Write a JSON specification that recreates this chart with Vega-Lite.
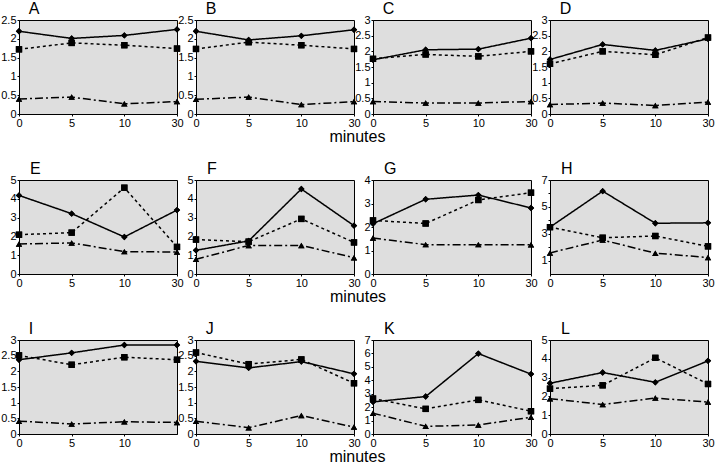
{
"$schema":"https://vega.github.io/schema/vega-lite/v6.json",
"padding":{"left":0,"top":0,"right":0,"bottom":0},
"background":"white",
"datasets":{"d":[
{"p":"A","s":"d","t":0,"v":2.20},{"p":"A","s":"d","t":5,"v":2.01},{"p":"A","s":"d","t":10,"v":2.09},{"p":"A","s":"d","t":30,"v":2.25},
{"p":"A","s":"s","t":0,"v":1.72},{"p":"A","s":"s","t":5,"v":1.89},{"p":"A","s":"s","t":10,"v":1.83},{"p":"A","s":"s","t":30,"v":1.74},
{"p":"A","s":"t","t":0,"v":0.40},{"p":"A","s":"t","t":5,"v":0.45},{"p":"A","s":"t","t":10,"v":0.27},{"p":"A","s":"t","t":30,"v":0.33},
{"p":"B","s":"d","t":0,"v":2.20},{"p":"B","s":"d","t":5,"v":1.97},{"p":"B","s":"d","t":10,"v":2.08},{"p":"B","s":"d","t":30,"v":2.24},
{"p":"B","s":"s","t":0,"v":1.73},{"p":"B","s":"s","t":5,"v":1.91},{"p":"B","s":"s","t":10,"v":1.83},{"p":"B","s":"s","t":30,"v":1.73},
{"p":"B","s":"t","t":0,"v":0.39},{"p":"B","s":"t","t":5,"v":0.45},{"p":"B","s":"t","t":10,"v":0.25},{"p":"B","s":"t","t":30,"v":0.33},
{"p":"C","s":"d","t":0,"v":1.73},{"p":"C","s":"d","t":5,"v":2.05},{"p":"C","s":"d","t":10,"v":2.07},{"p":"C","s":"d","t":30,"v":2.42},
{"p":"C","s":"s","t":0,"v":1.76},{"p":"C","s":"s","t":5,"v":1.90},{"p":"C","s":"s","t":10,"v":1.84},{"p":"C","s":"s","t":30,"v":2.00},
{"p":"C","s":"t","t":0,"v":0.40},{"p":"C","s":"t","t":5,"v":0.35},{"p":"C","s":"t","t":10,"v":0.35},{"p":"C","s":"t","t":30,"v":0.40},
{"p":"D","s":"d","t":0,"v":1.74},{"p":"D","s":"d","t":5,"v":2.22},{"p":"D","s":"d","t":10,"v":2.03},{"p":"D","s":"d","t":30,"v":2.40},
{"p":"D","s":"s","t":0,"v":1.60},{"p":"D","s":"s","t":5,"v":2.00},{"p":"D","s":"s","t":10,"v":1.89},{"p":"D","s":"s","t":30,"v":2.44},
{"p":"D","s":"t","t":0,"v":0.30},{"p":"D","s":"t","t":5,"v":0.35},{"p":"D","s":"t","t":10,"v":0.27},{"p":"D","s":"t","t":30,"v":0.38},
{"p":"E","s":"d","t":0,"v":4.18},{"p":"E","s":"d","t":5,"v":3.21},{"p":"E","s":"d","t":10,"v":1.97},{"p":"E","s":"d","t":30,"v":3.40},
{"p":"E","s":"s","t":0,"v":2.09},{"p":"E","s":"s","t":5,"v":2.20},{"p":"E","s":"s","t":10,"v":4.59},{"p":"E","s":"s","t":30,"v":1.44},
{"p":"E","s":"t","t":0,"v":1.60},{"p":"E","s":"t","t":5,"v":1.65},{"p":"E","s":"t","t":10,"v":1.19},{"p":"E","s":"t","t":30,"v":1.17},
{"p":"F","s":"d","t":0,"v":1.26},{"p":"F","s":"d","t":5,"v":1.76},{"p":"F","s":"d","t":10,"v":4.52},{"p":"F","s":"d","t":30,"v":2.57},
{"p":"F","s":"s","t":0,"v":1.83},{"p":"F","s":"s","t":5,"v":1.72},{"p":"F","s":"s","t":10,"v":2.93},{"p":"F","s":"s","t":30,"v":1.68},
{"p":"F","s":"t","t":0,"v":0.78},{"p":"F","s":"t","t":5,"v":1.52},{"p":"F","s":"t","t":10,"v":1.52},{"p":"F","s":"t","t":30,"v":0.87},
{"p":"G","s":"d","t":0,"v":2.14},{"p":"G","s":"d","t":5,"v":3.18},{"p":"G","s":"d","t":10,"v":3.36},{"p":"G","s":"d","t":30,"v":2.81},
{"p":"G","s":"s","t":0,"v":2.28},{"p":"G","s":"s","t":5,"v":2.15},{"p":"G","s":"s","t":10,"v":3.15},{"p":"G","s":"s","t":30,"v":3.46},
{"p":"G","s":"t","t":0,"v":1.53},{"p":"G","s":"t","t":5,"v":1.25},{"p":"G","s":"t","t":10,"v":1.25},{"p":"G","s":"t","t":30,"v":1.24},
{"p":"H","s":"d","t":0,"v":3.49},{"p":"H","s":"d","t":5,"v":6.17},{"p":"H","s":"d","t":10,"v":3.78},{"p":"H","s":"d","t":30,"v":3.81},
{"p":"H","s":"s","t":0,"v":3.49},{"p":"H","s":"s","t":5,"v":2.70},{"p":"H","s":"s","t":10,"v":2.83},{"p":"H","s":"s","t":30,"v":2.06},
{"p":"H","s":"t","t":0,"v":1.57},{"p":"H","s":"t","t":5,"v":2.53},{"p":"H","s":"t","t":10,"v":1.55},{"p":"H","s":"t","t":30,"v":1.23},
{"p":"I","s":"d","t":0,"v":2.37},{"p":"I","s":"d","t":5,"v":2.59},{"p":"I","s":"d","t":10,"v":2.84},{"p":"I","s":"d","t":30,"v":2.84},
{"p":"I","s":"s","t":0,"v":2.51},{"p":"I","s":"s","t":5,"v":2.21},{"p":"I","s":"s","t":10,"v":2.45},{"p":"I","s":"s","t":30,"v":2.37},
{"p":"I","s":"t","t":0,"v":0.41},{"p":"I","s":"t","t":5,"v":0.32},{"p":"I","s":"t","t":10,"v":0.39},{"p":"I","s":"t","t":30,"v":0.37},
{"p":"J","s":"d","t":0,"v":2.32},{"p":"J","s":"d","t":5,"v":2.11},{"p":"J","s":"d","t":10,"v":2.31},{"p":"J","s":"d","t":30,"v":1.92},
{"p":"J","s":"s","t":0,"v":2.60},{"p":"J","s":"s","t":5,"v":2.23},{"p":"J","s":"s","t":10,"v":2.38},{"p":"J","s":"s","t":30,"v":1.62},
{"p":"J","s":"t","t":0,"v":0.41},{"p":"J","s":"t","t":5,"v":0.20},{"p":"J","s":"t","t":10,"v":0.59},{"p":"J","s":"t","t":30,"v":0.22},
{"p":"K","s":"d","t":0,"v":2.39},{"p":"K","s":"d","t":5,"v":2.79},{"p":"K","s":"d","t":10,"v":5.99},{"p":"K","s":"d","t":30,"v":4.46},
{"p":"K","s":"s","t":0,"v":2.64},{"p":"K","s":"s","t":5,"v":1.87},{"p":"K","s":"s","t":10,"v":2.54},{"p":"K","s":"s","t":30,"v":1.70},
{"p":"K","s":"t","t":0,"v":1.55},{"p":"K","s":"t","t":5,"v":0.57},{"p":"K","s":"t","t":10,"v":0.67},{"p":"K","s":"t","t":30,"v":1.25},
{"p":"L","s":"d","t":0,"v":2.70},{"p":"L","s":"d","t":5,"v":3.27},{"p":"L","s":"d","t":10,"v":2.75},{"p":"L","s":"d","t":30,"v":3.89},
{"p":"L","s":"s","t":0,"v":2.41},{"p":"L","s":"s","t":5,"v":2.59},{"p":"L","s":"s","t":10,"v":4.05},{"p":"L","s":"s","t":30,"v":2.66},
{"p":"L","s":"t","t":0,"v":1.88},{"p":"L","s":"t","t":5,"v":1.57},{"p":"L","s":"t","t":10,"v":1.91},{"p":"L","s":"t","t":30,"v":1.70}
]},
"config":{
"view":{"fill":"#dedede","stroke":"black","strokeWidth":1},
"axis":{"grid":false,"domainColor":"black","domainWidth":1,"tickColor":"black","tickSize":2,"labelColor":"black","labelFont":"Liberation Sans Narrow, Liberation Sans","labelFontSize":11,"labelPadding":1},
"axisY":{"minExtent":17,"maxExtent":17},
"axisX":{"labelAngle":0,"labelPadding":1},
"title":{"anchor":"start","dx":28,"offset":-3,"fontSize":16,"font":"Liberation Sans","fontWeight":"normal","color":"black"},
"line":{"color":"black","strokeWidth":1.5},
"point":{"filled":true,"color":"black","size":40,"opacity":1}
},
"spacing":15,
"vconcat":[
{"bounds":"flush","spacing":19,"title":{"text":"minutes","orient":"bottom","anchor":"middle","dx":0,"offset":0,"fontSize":16},
"hconcat":[
{"title":"A","width":158,"height":94,"data":{"name":"d"},"transform":[{"filter":"datum.p=='A'"}],
"encoding":{"x":{"field":"t","type":"ordinal","scale":{"padding":0},"axis":{"title":null}},
"y":{"field":"v","type":"quantitative","scale":{"domain":[0,2.5],"nice":false},"axis":{"title":null,"values":[0,0.5,1,1.5,2,2.5],"format":"~g"}},
"strokeDash":{"field":"s","type":"nominal","legend":null,"scale":{"domain":["d","s","t"],"range":[[1,0],[3,3],[8,3,2,3]]}},
"shape":{"field":"s","type":"nominal","legend":null,"scale":{"domain":["d","s","t"],"range":["diamond","square","triangle-up"]}}},
"layer":[{"mark":"line"},{"mark":"point"}]},
{"title":"B","width":158,"height":94,"data":{"name":"d"},"transform":[{"filter":"datum.p=='B'"}],
"encoding":{"x":{"field":"t","type":"ordinal","scale":{"padding":0},"axis":{"title":null}},
"y":{"field":"v","type":"quantitative","scale":{"domain":[0,2.5],"nice":false},"axis":{"title":null,"values":[0,0.5,1,1.5,2,2.5],"format":"~g"}},
"strokeDash":{"field":"s","type":"nominal","legend":null,"scale":{"domain":["d","s","t"],"range":[[1,0],[3,3],[8,3,2,3]]}},
"shape":{"field":"s","type":"nominal","legend":null,"scale":{"domain":["d","s","t"],"range":["diamond","square","triangle-up"]}}},
"layer":[{"mark":"line"},{"mark":"point"}]},
{"title":"C","width":158,"height":94,"data":{"name":"d"},"transform":[{"filter":"datum.p=='C'"}],
"encoding":{"x":{"field":"t","type":"ordinal","scale":{"padding":0},"axis":{"title":null}},
"y":{"field":"v","type":"quantitative","scale":{"domain":[0,3],"nice":false},"axis":{"title":null,"values":[0,0.5,1,1.5,2,2.5,3],"format":"~g"}},
"strokeDash":{"field":"s","type":"nominal","legend":null,"scale":{"domain":["d","s","t"],"range":[[1,0],[3,3],[8,3,2,3]]}},
"shape":{"field":"s","type":"nominal","legend":null,"scale":{"domain":["d","s","t"],"range":["diamond","square","triangle-up"]}}},
"layer":[{"mark":"line"},{"mark":"point"}]},
{"title":"D","width":158,"height":94,"data":{"name":"d"},"transform":[{"filter":"datum.p=='D'"}],
"encoding":{"x":{"field":"t","type":"ordinal","scale":{"padding":0},"axis":{"title":null}},
"y":{"field":"v","type":"quantitative","scale":{"domain":[0,3],"nice":false},"axis":{"title":null,"values":[0,0.5,1,1.5,2,2.5,3],"format":"~g"}},
"strokeDash":{"field":"s","type":"nominal","legend":null,"scale":{"domain":["d","s","t"],"range":[[1,0],[3,3],[8,3,2,3]]}},
"shape":{"field":"s","type":"nominal","legend":null,"scale":{"domain":["d","s","t"],"range":["diamond","square","triangle-up"]}}},
"layer":[{"mark":"line"},{"mark":"point"}]}
]},
{"bounds":"flush","spacing":19,"title":{"text":"minutes","orient":"bottom","anchor":"middle","dx":0,"offset":0,"fontSize":16},
"hconcat":[
{"title":"E","width":158,"height":94,"data":{"name":"d"},"transform":[{"filter":"datum.p=='E'"}],
"encoding":{"x":{"field":"t","type":"ordinal","scale":{"padding":0},"axis":{"title":null}},
"y":{"field":"v","type":"quantitative","scale":{"domain":[0,5],"nice":false},"axis":{"title":null,"values":[0,1,2,3,4,5],"format":"~g"}},
"strokeDash":{"field":"s","type":"nominal","legend":null,"scale":{"domain":["d","s","t"],"range":[[1,0],[3,3],[8,3,2,3]]}},
"shape":{"field":"s","type":"nominal","legend":null,"scale":{"domain":["d","s","t"],"range":["diamond","square","triangle-up"]}}},
"layer":[{"mark":"line"},{"mark":"point"}]},
{"title":"F","width":158,"height":94,"data":{"name":"d"},"transform":[{"filter":"datum.p=='F'"}],
"encoding":{"x":{"field":"t","type":"ordinal","scale":{"padding":0},"axis":{"title":null}},
"y":{"field":"v","type":"quantitative","scale":{"domain":[0,5],"nice":false},"axis":{"title":null,"values":[0,1,2,3,4,5],"format":"~g"}},
"strokeDash":{"field":"s","type":"nominal","legend":null,"scale":{"domain":["d","s","t"],"range":[[1,0],[3,3],[8,3,2,3]]}},
"shape":{"field":"s","type":"nominal","legend":null,"scale":{"domain":["d","s","t"],"range":["diamond","square","triangle-up"]}}},
"layer":[{"mark":"line"},{"mark":"point"}]},
{"title":"G","width":158,"height":94,"data":{"name":"d"},"transform":[{"filter":"datum.p=='G'"}],
"encoding":{"x":{"field":"t","type":"ordinal","scale":{"padding":0},"axis":{"title":null}},
"y":{"field":"v","type":"quantitative","scale":{"domain":[0,4],"nice":false},"axis":{"title":null,"values":[0,1,2,3,4],"format":"~g"}},
"strokeDash":{"field":"s","type":"nominal","legend":null,"scale":{"domain":["d","s","t"],"range":[[1,0],[3,3],[8,3,2,3]]}},
"shape":{"field":"s","type":"nominal","legend":null,"scale":{"domain":["d","s","t"],"range":["diamond","square","triangle-up"]}}},
"layer":[{"mark":"line"},{"mark":"point"}]},
{"title":"H","width":158,"height":94,"data":{"name":"d"},"transform":[{"filter":"datum.p=='H'"}],
"encoding":{"x":{"field":"t","type":"ordinal","scale":{"padding":0},"axis":{"title":null}},
"y":{"field":"v","type":"quantitative","scale":{"domain":[0,7],"nice":false},"axis":{"title":null,"values":[1,2,3,4,5,6,7],"format":"~g","labelExpr":"datum.value % 2 == 1 ? datum.label : ''"}},
"strokeDash":{"field":"s","type":"nominal","legend":null,"scale":{"domain":["d","s","t"],"range":[[1,0],[3,3],[8,3,2,3]]}},
"shape":{"field":"s","type":"nominal","legend":null,"scale":{"domain":["d","s","t"],"range":["diamond","square","triangle-up"]}}},
"layer":[{"mark":"line"},{"mark":"point"}]}
]},
{"bounds":"flush","spacing":19,"title":{"text":"minutes","orient":"bottom","anchor":"middle","dx":0,"offset":0,"fontSize":16},
"hconcat":[
{"title":"I","width":158,"height":94,"data":{"name":"d"},"transform":[{"filter":"datum.p=='I'"}],
"encoding":{"x":{"field":"t","type":"ordinal","scale":{"padding":0},"axis":{"title":null,"values":[0,5,10]}},
"y":{"field":"v","type":"quantitative","scale":{"domain":[0,3],"nice":false},"axis":{"title":null,"values":[0,0.5,1,1.5,2,2.5,3],"format":"~g"}},
"strokeDash":{"field":"s","type":"nominal","legend":null,"scale":{"domain":["d","s","t"],"range":[[1,0],[3,3],[8,3,2,3]]}},
"shape":{"field":"s","type":"nominal","legend":null,"scale":{"domain":["d","s","t"],"range":["diamond","square","triangle-up"]}}},
"layer":[{"mark":"line"},{"mark":"point"}]},
{"title":"J","width":158,"height":94,"data":{"name":"d"},"transform":[{"filter":"datum.p=='J'"}],
"encoding":{"x":{"field":"t","type":"ordinal","scale":{"padding":0},"axis":{"title":null}},
"y":{"field":"v","type":"quantitative","scale":{"domain":[0,3],"nice":false},"axis":{"title":null,"values":[0,0.5,1,1.5,2,2.5,3],"format":"~g"}},
"strokeDash":{"field":"s","type":"nominal","legend":null,"scale":{"domain":["d","s","t"],"range":[[1,0],[3,3],[8,3,2,3]]}},
"shape":{"field":"s","type":"nominal","legend":null,"scale":{"domain":["d","s","t"],"range":["diamond","square","triangle-up"]}}},
"layer":[{"mark":"line"},{"mark":"point"}]},
{"title":"K","width":158,"height":94,"data":{"name":"d"},"transform":[{"filter":"datum.p=='K'"}],
"encoding":{"x":{"field":"t","type":"ordinal","scale":{"padding":0},"axis":{"title":null}},
"y":{"field":"v","type":"quantitative","scale":{"domain":[0,7],"nice":false},"axis":{"title":null,"values":[0,1,2,3,4,5,6,7],"format":"~g"}},
"strokeDash":{"field":"s","type":"nominal","legend":null,"scale":{"domain":["d","s","t"],"range":[[1,0],[3,3],[8,3,2,3]]}},
"shape":{"field":"s","type":"nominal","legend":null,"scale":{"domain":["d","s","t"],"range":["diamond","square","triangle-up"]}}},
"layer":[{"mark":"line"},{"mark":"point"}]},
{"title":"L","width":158,"height":94,"data":{"name":"d"},"transform":[{"filter":"datum.p=='L'"}],
"encoding":{"x":{"field":"t","type":"ordinal","scale":{"padding":0},"axis":{"title":null}},
"y":{"field":"v","type":"quantitative","scale":{"domain":[0,5],"nice":false},"axis":{"title":null,"values":[0,1,2,3,4,5],"format":"~g"}},
"strokeDash":{"field":"s","type":"nominal","legend":null,"scale":{"domain":["d","s","t"],"range":[[1,0],[3,3],[8,3,2,3]]}},
"shape":{"field":"s","type":"nominal","legend":null,"scale":{"domain":["d","s","t"],"range":["diamond","square","triangle-up"]}}},
"layer":[{"mark":"line"},{"mark":"point"}]}
]}
]
}
